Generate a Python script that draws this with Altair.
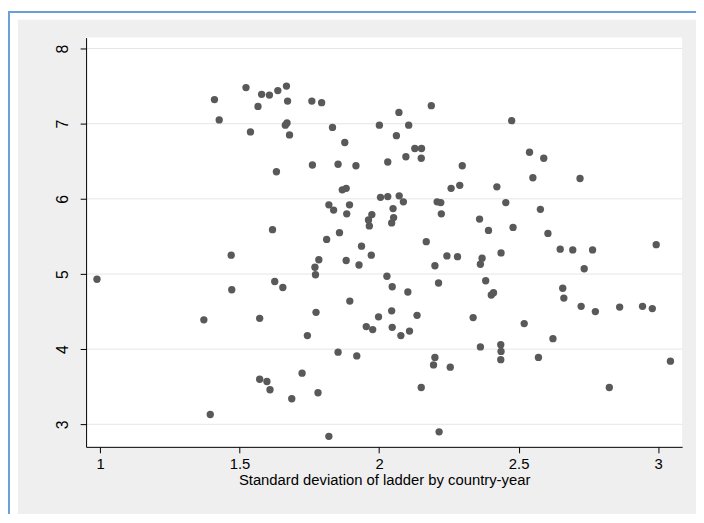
import altair as alt
import pandas as pd

# Standard deviation of ladder by country-year (x) vs mean ladder (y)
sd_ladder = [
    1.410, 1.427, 1.523, 1.579, 1.607, 1.637, 1.668, 1.566, 1.672, 1.539,
    1.670, 1.664, 1.679, 1.759, 1.794, 1.833, 1.877, 2.001, 1.632, 1.761,
    1.853, 1.917, 2.031, 1.868, 1.882, 2.005, 2.031, 1.820, 1.837, 1.894,
    1.884, 1.974, 1.962, 1.965, 1.618, 1.858, 1.812, 1.937, 1.470, 1.972,
    1.784, 1.882, 1.928, 1.770, 0.989, 1.472, 1.372, 1.395, 1.626, 1.655,
    1.772, 1.572, 1.774, 1.895, 1.998, 1.954, 1.977, 1.743, 1.853, 1.920,
    1.572, 1.598, 1.609, 1.724, 1.687, 1.781, 1.820, 2.187, 2.071, 2.106,
    2.062, 2.475, 2.128, 2.152, 2.096, 2.151, 2.298, 2.539, 2.590, 2.551,
    2.720, 2.258, 2.289, 2.422, 2.072, 2.087, 2.050, 2.052, 2.045, 2.208,
    2.221, 2.223, 2.454, 2.578, 2.360, 2.392, 2.480, 2.605, 2.169, 2.993,
    2.243, 2.281, 2.369, 2.363, 2.437, 2.200, 2.649, 2.694, 2.765, 2.735,
    2.028, 2.047, 2.103, 2.213, 2.382, 2.402, 2.410, 2.658, 2.662, 2.724,
    2.775, 2.862, 2.944, 2.979, 2.045, 2.136, 2.047, 2.078, 2.109, 2.337,
    2.520, 2.623, 2.363, 2.436, 2.437, 2.436, 2.571, 3.044, 2.200, 2.195,
    2.255, 2.151, 2.825, 2.215,
]
mean_ladder = [
    7.32, 7.05, 7.48, 7.39, 7.38, 7.44, 7.50, 7.23, 7.30, 6.89,
    7.01, 6.98, 6.85, 7.30, 7.28, 6.95, 6.75, 6.98, 6.36, 6.45,
    6.46, 6.44, 6.49, 6.12, 6.14, 6.02, 6.03, 5.92, 5.85, 5.92,
    5.80, 5.79, 5.72, 5.64, 5.59, 5.55, 5.46, 5.37, 5.25, 5.25,
    5.19, 5.18, 5.12, 5.09, 4.93, 4.79, 4.39, 3.13, 4.90, 4.82,
    4.99, 4.41, 4.49, 4.64, 4.43, 4.30, 4.26, 4.18, 3.96, 3.91,
    3.60, 3.57, 3.46, 3.68, 3.34, 3.42, 2.84, 7.24, 7.15, 6.98,
    6.84, 7.04, 6.67, 6.67, 6.56, 6.54, 6.44, 6.62, 6.54, 6.28,
    6.27, 6.14, 6.18, 6.16, 6.04, 5.96, 5.87, 5.75, 5.68, 5.96,
    5.95, 5.80, 5.95, 5.86, 5.73, 5.58, 5.62, 5.54, 5.43, 5.39,
    5.24, 5.23, 5.21, 5.13, 5.28, 5.11, 5.33, 5.32, 5.32, 5.07,
    4.97, 4.83, 4.76, 4.88, 4.91, 4.72, 4.75, 4.81, 4.68, 4.57,
    4.50, 4.56, 4.57, 4.54, 4.51, 4.45, 4.29, 4.18, 4.24, 4.42,
    4.34, 4.14, 4.03, 4.06, 3.97, 3.86, 3.89, 3.84, 3.89, 3.79,
    3.76, 3.49, 3.49, 2.90,
]
x_ticks = [1, 1.5, 2, 2.5, 3]
y_ticks = [3, 4, 5, 6, 7, 8]
x_title = "Standard deviation of ladder by country-year"

W, H = 603, 414
PAD_L, PAD_T, PAD_R, PAD_B = 79, 27, 14, 68
FONT = "Liberation Sans"

pts = pd.DataFrame({"sd": sd_ladder, "mean": mean_ladder})
grid = pd.DataFrame({"g": y_ticks})
one = pd.DataFrame({"a": [0]})

x_scale = alt.Scale(domain=[0.95, 3.086], nice=False, zero=False)
y_scale = alt.Scale(domain=[2.70, 8.145], nice=False, zero=False)

x_axis = alt.Axis(
    values=x_ticks, format="~g", title=x_title, grid=False, tickSize=6,
    tickColor="black", domainColor="black", labelFont=FONT, labelFontSize=15,
    labelColor="black", labelPadding=4, titleFont=FONT, titleFontSize=15,
    titleFontWeight="normal", titleColor="black", titlePadding=1, zindex=1,
    labelFlush=False,
)
y_axis = alt.Axis(
    values=y_ticks, format="~g", title=None, grid=False, tickSize=6,
    tickColor="black", domainColor="black", labelFont=FONT, labelFontSize=16,
    labelColor="black", labelAngle=270, labelAlign="center",
    labelBaseline="bottom", labelPadding=10, zindex=1, labelFlush=False,
)

gray_bg = alt.Chart(one).mark_rect(color="#efefef").encode(
    x=alt.value(-(PAD_L - 10)), x2=alt.value(W + PAD_R),
    y=alt.value(-(PAD_T - 9)), y2=alt.value(H + PAD_B),
)
frame_v = alt.Chart(one).mark_rule(color="#6a9fd8", strokeWidth=2).encode(
    x=alt.value(-(PAD_L - 1)), y=alt.value(-PAD_T), y2=alt.value(H + PAD_B),
)
frame_h = alt.Chart(one).mark_rule(color="#6a9fd8", strokeWidth=2).encode(
    y=alt.value(-(PAD_T - 1)), x=alt.value(-PAD_L), x2=alt.value(W + PAD_R),
)
white_bg = alt.Chart(one).mark_rect(color="white").encode(
    x=alt.value(0), x2=alt.value(W), y=alt.value(0), y2=alt.value(H),
)
gridlines = alt.Chart(grid).mark_rule(color="#e6e6e6", strokeWidth=1).encode(
    y=alt.Y("g:Q", scale=y_scale, axis=y_axis),
)
points = alt.Chart(pts).mark_circle(size=55, color="#595959", opacity=1).encode(
    x=alt.X("sd:Q", scale=x_scale, axis=x_axis),
    y=alt.Y("mean:Q", scale=y_scale, axis=y_axis),
)

chart = alt.layer(gray_bg, frame_v, frame_h, white_bg, gridlines, points).properties(
    width=W, height=H,
    autosize=alt.AutoSizeParams(type="none"),
    padding={"left": PAD_L, "top": PAD_T, "right": PAD_R, "bottom": PAD_B},
    background="white",
).configure_view(stroke=None)

chart.save("out.html", embed_options={"renderer": "svg", "actions": False})
